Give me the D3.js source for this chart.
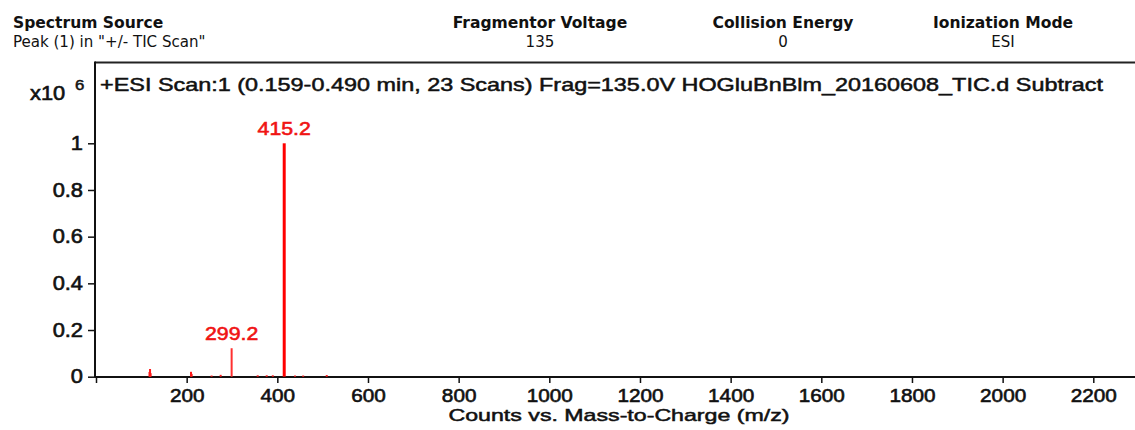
<!DOCTYPE html>
<html>
<head>
<meta charset="utf-8">
<script src="https://cdn.jsdelivr.net/npm/d3@7"></script>
<style>
  html, body { margin: 0; padding: 0; background: #fff; }
  svg { display: block; }
</style>
</head>
<body>
<svg id="chart" width="1135" height="430"></svg>
<script>
// ---------- data ----------
const headerTitles = ["Spectrum Source", "Fragmentor Voltage", "Collision Energy", "Ionization Mode"];
const headerValues = ['Peak (1) in "+/- TIC Scan"', "135", "0", "ESI"];
const scanTitle = "+ESI Scan:1 (0.159-0.490 min, 23 Scans) Frag=135.0V HOGluBnBlm_20160608_TIC.d  Subtract";
const xAxisTitle = "Counts vs. Mass-to-Charge (m/z)";
const multiplierBase = "x10";
const multiplierExp = "6";
const xTickValues = [0, 200, 400, 600, 800, 1000, 1200, 1400, 1600, 1800, 2000, 2200];
const yTickValues = [0, 0.2, 0.4, 0.6, 0.8, 1];
// m/z and intensity (x10^6 counts)
const mzValues =        [118.0, 119.2, 120.5, 209.6, 211.0, 255.0, 275.0, 299.2, 356.7, 376.6, 390.0, 415.2, 439.0, 457.0, 509.0];
const intensityValues = [0.020, 0.033, 0.015, 0.021, 0.012, 0.005, 0.008, 0.122, 0.006, 0.006, 0.006, 1.000, 0.005, 0.005, 0.007];
const peakLabelMz =   [415.2, 299.2];
const peakLabelText = ["415.2", "299.2"];

// ---------- layout ----------
const svg = d3.select("#chart");
const plotLeft = 95, plotTop = 62.5, plotRight = 1135, plotBottom = 377;
const x = d3.scaleLinear().domain([0, 2292]).range([96, 1135]);
const y = d3.scaleLinear().domain([0, 1]).range([376.7, 143.3]);
const sans = "Liberation Sans, Arial, sans-serif";
const hdrFont = "DejaVu Sans Condensed, DejaVu Sans, sans-serif";

function stretch(sel, factor) {
  sel.each(function() {
    const w = this.getComputedTextLength();
    d3.select(this).attr("textLength", w * factor).attr("lengthAdjust", "spacingAndGlyphs");
  });
}
function thicken(sel, color, w) {
  sel.attr("stroke", color).attr("stroke-width", w).attr("paint-order", "stroke");
}

// ---------- header ----------
const headerX = [13, 540, 783, 1003];
headerTitles.forEach((t, i) => {
  const a = svg.append("text")
    .attr("x", headerX[i]).attr("y", 28)
    .attr("text-anchor", i === 0 ? "start" : "middle")
    .attr("font-family", hdrFont)
    .attr("font-weight", "bold").attr("font-size", 16)
    .attr("fill", "#111")
    .text(t);
  stretch(a, 1.08);
  const b = svg.append("text")
    .attr("x", headerX[i]).attr("y", 47)
    .attr("text-anchor", i === 0 ? "start" : "middle")
    .attr("font-family", hdrFont)
    .attr("font-size", 15.5)
    .attr("fill", "#111")
    .text(headerValues[i]);
  stretch(b, 1.08);
});

// ---------- frame ----------
svg.append("line").attr("x1", plotLeft).attr("x2", plotRight).attr("y1", plotTop).attr("y2", plotTop)
  .attr("stroke", "#222").attr("stroke-width", 2);

// scan title
const st = svg.append("text")
  .attr("x", 100).attr("y", 91)
  .attr("font-family", sans)
  .attr("font-size", 18.5).attr("fill", "#111")
  .text(scanTitle);
st.attr("textLength", 1003).attr("lengthAdjust", "spacingAndGlyphs");
thicken(st, "#111", 0.5);

// x10^6
const mb = svg.append("text")
  .attr("x", 30).attr("y", 100)
  .attr("font-family", sans)
  .attr("font-size", 19.5).attr("fill", "#111")
  .text(multiplierBase);
stretch(mb, 1.12);
thicken(mb, "#111", 0.6);
const me = svg.append("text")
  .attr("x", 75).attr("y", 90)
  .attr("font-family", sans)
  .attr("font-size", 15).attr("fill", "#111")
  .text(multiplierExp);
stretch(me, 1.12);
thicken(me, "#111", 0.5);

// ---------- axes ----------
const xAxis = d3.axisBottom(x).tickValues(xTickValues).tickSize(6).tickPadding(6)
  .tickFormat(d => d === 0 ? "" : d3.format("d")(d));
const gx = svg.append("g").attr("transform", `translate(0,${plotBottom})`).call(xAxis);
gx.select(".domain").remove();
gx.selectAll(".tick line").attr("stroke", "#111").attr("stroke-width", 1.5);
const xtl = gx.selectAll(".tick text")
  .attr("font-family", sans)
  .attr("font-size", 18.5).attr("fill", "#111").attr("y", 12).attr("dy", "0.71em");
stretch(xtl, 1.12);
thicken(xtl, "#111", 0.6);

const yAxis = d3.axisLeft(y).tickValues(yTickValues).tickSize(7).tickPadding(5)
  .tickFormat(d => d3.format("~g")(d));
const gy = svg.append("g").attr("transform", `translate(${plotLeft},0)`).call(yAxis);
gy.select(".domain").remove();
gy.selectAll(".tick line").attr("stroke", "#111").attr("stroke-width", 1.5);
const ytl = gy.selectAll(".tick text")
  .attr("font-family", sans)
  .attr("font-size", 19.5).attr("fill", "#111");
stretch(ytl, 1.12);
thicken(ytl, "#111", 0.6);

svg.append("line").attr("x1", plotLeft).attr("x2", plotRight).attr("y1", plotBottom).attr("y2", plotBottom)
  .attr("stroke", "#111").attr("stroke-width", 2);
svg.append("line").attr("x1", plotLeft).attr("x2", plotLeft).attr("y1", plotTop - 1).attr("y2", plotBottom)
  .attr("stroke", "#111").attr("stroke-width", 2);

// axis title
const xt = svg.append("text")
  .attr("x", 619).attr("y", 421).attr("text-anchor", "middle")
  .attr("font-family", sans)
  .attr("font-size", 17).attr("fill", "#111")
  .text(xAxisTitle);
xt.attr("textLength", 341).attr("lengthAdjust", "spacingAndGlyphs");
thicken(xt, "#111", 0.5);

// ---------- peaks ----------
const peaks = mzValues.map((m, i) => ({ mz: m, v: intensityValues[i] }));
svg.append("g").selectAll("line").data(peaks).join("line")
  .attr("x1", d => x(d.mz)).attr("x2", d => x(d.mz))
  .attr("y1", y(0)).attr("y2", d => y(d.v))
  .attr("stroke", d => d.v > 0.5 ? "#ff0000" : (d.v > 0.1 ? "#ff3030" : "#ff1a1a"))
  .attr("stroke-width", d => d.v > 0.5 ? 3 : 2);

// peak labels
peakLabelMz.forEach((m, i) => {
  const idx = mzValues.indexOf(m);
  const t = svg.append("text")
    .attr("x", x(m)).attr("y", y(intensityValues[idx]) - 8)
    .attr("text-anchor", "middle")
    .attr("font-family", sans)
    .attr("font-size", 19).attr("fill", "#f01414")
    .text(peakLabelText[i]);
  stretch(t, 1.12);
  thicken(t, "#f01414", 0.6);
});
</script>
</body>
</html>
